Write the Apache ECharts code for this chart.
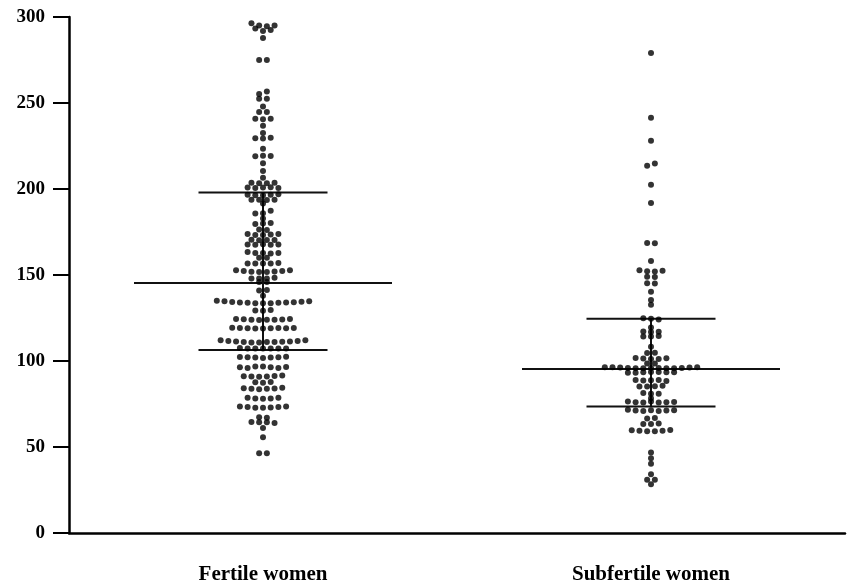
<!DOCTYPE html>
<html>
<head>
<meta charset="utf-8">
<script src="https://cdn.jsdelivr.net/npm/echarts@6/dist/echarts.min.js"></script>
<style>
html,body{margin:0;padding:0;background:#fff;}
#chart{width:849px;height:588px;}
</style>
</head>
<body>
<div id="chart"></div>
<script>
// ---- data ----
const categories = ['Fertile women', 'Subfertile women'];

// values listed top to bottom, left to right within a row
const fertileValues = [
  296.3, 295.0, 294.6, 295.1,
  293.3, 291.8, 292.5,
  287.8,
  275.0, 275.0,
  255.2, 256.7,
  252.4, 252.4,
  248.0,
  244.7, 244.7,
  240.8, 240.5, 240.9,
  236.8,
  232.5,
  229.5, 229.3, 229.8,
  223.4,
  219.0, 219.4, 219.2,
  215.0,
  210.5,
  206.6,
  203.6, 203.4, 203.4, 203.6,
  200.8, 200.6, 200.8, 201.0, 200.6,
  196.6, 196.4, 196.3, 196.6, 196.9,
  193.8, 193.8, 193.6, 193.8,
  191.5,
  185.7, 185.9, 187.3,
  182.8,
  179.6, 179.9, 180.2,
  176.4, 176.2,
  173.9, 173.3, 173.3, 173.5, 173.9,
  170.5, 170.2, 170.3, 170.4,
  167.8, 167.6, 167.9, 167.6, 167.8,
  163.3, 162.8, 162.8, 162.5, 162.8,
  160.0, 160.0,
  156.7, 156.7, 156.7, 156.7, 157.0,
  152.8, 152.3, 151.9, 151.7, 151.7, 152.0, 152.3, 152.8,
  148.0, 148.0, 148.0, 148.4,
  146.0, 146.0,
  141.0, 141.3,
  138.0,
  135.0, 134.7, 134.3, 134.0, 133.8, 133.6, 133.6, 133.6, 133.8, 134.0, 134.2, 134.5, 134.8,
  129.4, 129.2, 129.6,
  124.4, 124.3, 124.0, 123.8, 124.0, 124.0, 124.2, 124.4,
  119.3, 119.2, 119.1, 118.9, 118.9, 119.0, 119.2, 119.1, 119.2,
  112.0, 111.7, 111.4, 111.0, 110.8, 110.8, 111.0, 111.0, 111.2, 111.4, 111.6, 112.0,
  107.5, 107.3, 107.2, 107.3, 107.2, 107.2, 107.3,
  102.3, 102.2, 102.0, 101.8, 102.0, 102.2, 102.4,
  96.3, 96.0, 96.8, 96.8, 96.3, 96.0, 96.5,
  91.2, 91.0, 90.8, 91.0, 91.3, 91.5,
  87.6, 87.4, 87.8,
  84.2, 83.8, 83.6, 83.8, 84.0, 84.4,
  78.6, 78.2, 78.0, 78.2, 78.6,
  73.6, 73.2, 72.8, 72.8, 73.0, 73.2, 73.6,
  67.3, 67.0,
  64.6, 64.4, 64.4, 64.0,
  61.0,
  55.7,
  46.4, 46.4
];

const subfertileValues = [
  279.1,
  241.4,
  228.0,
  213.5, 214.8,
  202.5,
  191.9,
  168.6, 168.4,
  158.2,
  152.8, 152.2, 152.0, 152.5,
  149.0, 148.8,
  145.2, 145.0,
  140.2,
  135.4,
  132.7,
  124.8, 124.5, 124.2,
  119.5,
  117.2, 116.8, 117.0,
  114.3, 114.2, 114.5,
  108.3,
  104.7, 104.8,
  101.8, 101.4, 101.2, 101.2, 101.6,
  98.6, 98.6,
  96.4, 96.3, 96.2, 96.0, 95.8, 95.8, 96.0, 96.0, 95.8, 95.8, 96.0, 96.2, 96.4,
  93.2, 93.2, 93.4, 93.6, 93.6, 93.4, 93.4,
  89.0, 88.6, 88.8, 89.0, 88.4,
  85.2, 85.2, 85.3, 85.6,
  81.4, 81.0, 81.0,
  78.3,
  76.4, 76.0, 75.8, 76.4, 75.8, 76.0, 76.2,
  71.6, 71.2, 71.0, 71.4, 71.0, 71.2, 71.4,
  66.6, 66.8,
  63.4, 63.4, 63.6,
  59.8, 59.4, 59.2, 59.2, 59.5, 59.9,
  46.8,
  43.5,
  40.2,
  34.2,
  31.0, 31.0,
  28.4
];

const groups = [fertileValues, subfertileValues];
const medians = [145.4, 95.4];
const upperQuartiles = [198.0, 124.6];
const lowerQuartiles = [106.4, 73.5];

const yMin = 0, yMax = 300, yInterval = 50;

// ---- layout constants ----
const GRID = { left: 69, right: 4, top: 17, bottom: 55 };
const DOT_STEP_PX = 7.7;      // horizontal spacing of dots in a row
const ROW_TOL = 1.8;          // values within this of a row's first value share the row
const MEDIAN_HALF_PX = 129;
const QUART_HALF_PX = 64.5;
const FONT = '"Liberation Serif","DejaVu Serif",serif';

const chart = echarts.init(document.getElementById('chart'), null, { renderer: 'canvas' });
const plotW = chart.getWidth() - GRID.left - GRID.right;
const pxPerUnit = plotW / categories.length;
const step = DOT_STEP_PX / pxPerUnit;

function swarm(values, center) {
  const pts = [];
  let row = [];
  const flush = () => {
    const n = row.length;
    row.forEach((v, i) => pts.push([center + (i - (n - 1) / 2) * step, v]));
    row = [];
  };
  values.forEach(v => {
    if (row.length && Math.abs(v - row[0]) > ROW_TOL) flush();
    row.push(v);
  });
  if (row.length) flush();
  return pts;
}

const series = [];
groups.forEach((vals, gi) => {
  const c = gi + 0.5;
  const mh = MEDIAN_HALF_PX / pxPerUnit;
  const qh = QUART_HALF_PX / pxPerUnit;
  const seg = (a, b) => ({
    type: 'line', xAxisIndex: 1, yAxisIndex: 0, data: [a, b],
    symbol: 'none', silent: true, z: 1,
    lineStyle: { color: '#111', width: 2 }
  });
  series.push(seg([c - mh, medians[gi]], [c + mh, medians[gi]]));
  series.push(seg([c - qh, upperQuartiles[gi]], [c + qh, upperQuartiles[gi]]));
  series.push(seg([c - qh, lowerQuartiles[gi]], [c + qh, lowerQuartiles[gi]]));
  series.push(seg([c, lowerQuartiles[gi]], [c, upperQuartiles[gi]]));
  series.push({
    type: 'scatter', xAxisIndex: 1, yAxisIndex: 0, z: 3,
    symbol: 'circle', symbolSize: 6,
    itemStyle: { color: '#000' },
    data: swarm(vals, c)
  });
});

chart.setOption({
  animation: false,
  backgroundColor: '#fff',
  grid: GRID,
  xAxis: [
    {
      type: 'category', data: categories, boundaryGap: true,
      axisLine: { lineStyle: { color: '#000', width: 2.5 } },
      axisTick: { alignWithLabel: true, length: 12, lineStyle: { color: '#000', width: 2.5 } },
      axisLabel: { color: '#000', fontFamily: FONT, fontWeight: 'bold', fontSize: 21, margin: 31 },
      splitLine: { show: false }
    },
    {
      type: 'value', min: 0, max: categories.length, show: false,
      splitLine: { show: false }
    }
  ],
  yAxis: {
    type: 'value', min: yMin, max: yMax, interval: yInterval,
    axisLine: { show: true, lineStyle: { color: '#000', width: 2.5 } },
    axisTick: { show: true, length: 16, lineStyle: { color: '#000', width: 2 } },
    axisLabel: { color: '#000', fontFamily: FONT, fontWeight: 'bold', fontSize: 19, margin: 24 },
    splitLine: { show: false }
  },
  series: series
});
</script>
</body>
</html>
